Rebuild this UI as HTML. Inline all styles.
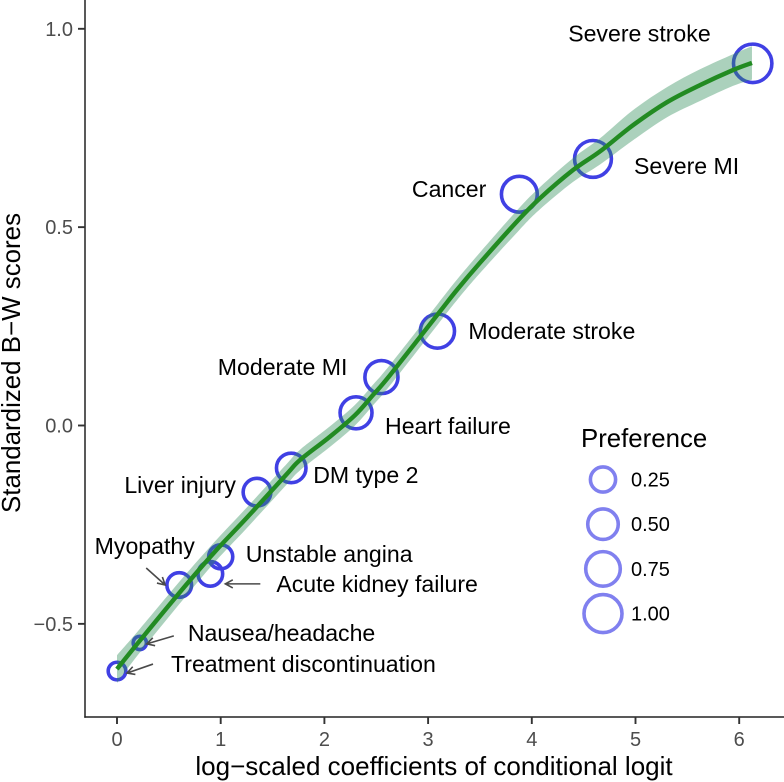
<!DOCTYPE html>
<html>
<head>
<meta charset="utf-8">
<title>Standardized B-W scores vs conditional logit coefficients</title>
<style>
html,body{margin:0;padding:0;background:#fff;width:784px;height:782px;overflow:hidden}
svg{display:block;font-family:"Liberation Sans",sans-serif}
</style>
</head>
<body>
<svg id="chart" width="784" height="782" viewBox="0 0 784 782" xmlns="http://www.w3.org/2000/svg"></svg>
<script>
const pointNames = ["Treatment discontinuation","Nausea/headache","Myopathy","Acute kidney failure","Unstable angina","Liver injury","DM type 2","Heart failure","Moderate MI","Moderate stroke","Cancer","Severe MI","Severe stroke"];
const pointX = [0, 0.22, 0.6, 0.9, 1.0, 1.35, 1.68, 2.305, 2.55, 3.09, 3.88, 4.59, 6.13];
const pointY = [-0.619, -0.548, -0.402, -0.374, -0.331, -0.168, -0.107, 0.032, 0.122, 0.238, 0.583, 0.672, 0.913];
const pointPref = [0.1, 0.03, 0.3, 0.3, 0.28, 0.42, 0.5, 0.62, 0.68, 0.74, 0.84, 0.9, 1.0];

const curveX = [0, 0.203, 0.627, 0.945, 1.254, 1.639, 1.765, 2.054, 2.295, 2.469, 2.633, 3.095, 3.279, 3.5, 3.877, 4.079, 4.398, 4.658, 4.976, 5.304, 5.622, 5.94, 6.123];
const curveY = [-0.614, -0.548, -0.414, -0.318, -0.232, -0.122, -0.087, -0.028, 0.026, 0.077, 0.127, 0.281, 0.342, 0.41, 0.52, 0.573, 0.644, 0.691, 0.757, 0.815, 0.858, 0.896, 0.914];
const curveUpper = [-0.579, -0.518, -0.386, -0.292, -0.206, -0.096, -0.061, -0.002, 0.052, 0.103, 0.153, 0.307, 0.368, 0.436, 0.548, 0.601, 0.674, 0.724, 0.795, 0.853, 0.898, 0.936, 0.956];
const curveLower = [-0.649, -0.578, -0.442, -0.344, -0.258, -0.148, -0.113, -0.054, 0, 0.051, 0.101, 0.255, 0.316, 0.384, 0.492, 0.545, 0.614, 0.658, 0.719, 0.777, 0.818, 0.856, 0.872];

const xTicks = [0, 1, 2, 3, 4, 5, 6];
const yTicks = [-0.5, 0, 0.5, 1];
const yTickLabels = ["\u22120.5", "0.0", "0.5", "1.0"];
const legendValues = [0.25, 0.5, 0.75, 1];
const legendLabels = ["0.25", "0.50", "0.75", "1.00"];

const sx = v => 117 + v * 103.7;
const sy = v => 425.5 - v * 396.7;
const sr = p => 4 + 15.2 * Math.sqrt(Math.max(p, 0));
const legendR = p => 6.2 + 12.8 * Math.sqrt(p);

const labelLayout = [
  {dx:54, dy:0, anchor:"start", arrow:[36,-7,10,2]},
  {dx:48, dy:-3, anchor:"start", arrow:[34,-7,7,1]},
  {dx:-34.5, dy:-32, anchor:"middle", arrow:[-33,-17,-14,0]},
  {dx:66, dy:17, anchor:"start", arrow:[50,10,15,10]},
  {dx:25, dy:4, anchor:"start", arrow:null},
  {dx:-21, dy:0, anchor:"end", arrow:null},
  {dx:22, dy:14, anchor:"start", arrow:null},
  {dx:29, dy:20, anchor:"start", arrow:null},
  {dx:-34, dy:-3, anchor:"end", arrow:null},
  {dx:31, dy:7, anchor:"start", arrow:null},
  {dx:-33, dy:2, anchor:"end", arrow:null},
  {dx:41, dy:14, anchor:"start", arrow:null},
  {dx:-42, dy:-23, anchor:"end", arrow:null}
];

const NS = "http://www.w3.org/2000/svg";
const svg = document.getElementById("chart");
function mk(tag, attrs, parent, text) {
  const el = document.createElementNS(NS, tag);
  for (const k in attrs) el.setAttribute(k, attrs[k]);
  if (text !== undefined) el.textContent = text;
  (parent || svg).appendChild(el);
  return el;
}
function smooth(pts, move) {
  let d = move ? "M" + pts[0][0].toFixed(2) + "," + pts[0][1].toFixed(2) : "L" + pts[0][0].toFixed(2) + "," + pts[0][1].toFixed(2);
  for (let i = 0; i < pts.length - 1; i++) {
    const p0 = pts[Math.max(i - 1, 0)], p1 = pts[i], p2 = pts[i + 1], p3 = pts[Math.min(i + 2, pts.length - 1)];
    const c1x = p1[0] + (p2[0] - p0[0]) / 6, c1y = p1[1] + (p2[1] - p0[1]) / 6;
    const c2x = p2[0] - (p3[0] - p1[0]) / 6, c2y = p2[1] - (p3[1] - p1[1]) / 6;
    d += "C" + c1x.toFixed(2) + "," + c1y.toFixed(2) + " " + c2x.toFixed(2) + "," + c2y.toFixed(2) + " " + p2[0].toFixed(2) + "," + p2[1].toFixed(2);
  }
  return d;
}

/* markers */
const markers = mk("g", {}, svg);


pointNames.forEach((name, i) => {
  const c = mk("circle", {cx: sx(pointX[i]), cy: sy(pointY[i]), r: sr(pointPref[i]), fill: "none", stroke: "#4040e4", "stroke-width": 3.6}, markers);
  
  
});

/* ribbon and smooth line */
const upperPts = curveX.map((v, i) => [sx(v), sy(curveUpper[i])]);
const lowerPts = curveX.map((v, i) => [sx(v), sy(curveLower[i])]).reverse();
const ribbon = mk("path", {d: smooth(upperPts, true) + smooth(lowerPts, false) + "Z", fill: "#2e8b57", "fill-opacity": 0.4, stroke: "none"});


const line = mk("path", {d: smooth(curveX.map((v, i) => [sx(v), sy(curveY[i])]), true), fill: "none", stroke: "#228b22", "stroke-width": 4.4});



/* labels and arrows */
pointNames.forEach((name, i) => {
  const L = labelLayout[i], px = sx(pointX[i]), py = sy(pointY[i]);
  const t = mk("text", {x: px + L.dx, y: py + L.dy + 1, "text-anchor": L.anchor, "font-size": 23.1, fill: "#000"}, svg, name);
  
  
  if (L.arrow) {
    const a = L.arrow, x1 = px + a[0], y1 = py + a[1], x2 = px + a[2], y2 = py + a[3];
    const ang = Math.atan2(y2 - y1, x2 - x1), h = 8.5, s = 0.5;
    const d = "M" + x1 + "," + y1 + "L" + x2 + "," + y2 +
      "M" + (x2 - h * Math.cos(ang - s)) + "," + (y2 - h * Math.sin(ang - s)) + "L" + x2 + "," + y2 +
      "L" + (x2 - h * Math.cos(ang + s)) + "," + (y2 - h * Math.sin(ang + s));
    const ar = mk("path", {d: d, fill: "none", stroke: "#4a4a4a", "stroke-width": 1.6});
    
    
  }
});

/* axes */
const axisY = mk("line", {x1: 85, x2: 85, y1: 0, y2: 717.7, stroke: "#222", "stroke-width": 1.5});


const axisX = mk("line", {x1: 84.3, x2: 784, y1: 717, y2: 717, stroke: "#222", "stroke-width": 1.5});


xTicks.forEach(v => {
  const tick = mk("line", {x1: sx(v), x2: sx(v), y1: 717, y2: 724, stroke: "#333", "stroke-width": 1.9});
  
  
  const lab = mk("text", {x: sx(v), y: 746, "text-anchor": "middle", "font-size": 20, fill: "#4d4d4d"}, svg, String(v));
  
  
});
yTicks.forEach((v, i) => {
  const tick = mk("line", {x1: 78, x2: 85, y1: sy(v), y2: sy(v), stroke: "#333", "stroke-width": 1.9});
  
  
  const lab = mk("text", {x: 73, y: sy(v) + 7, "text-anchor": "end", "font-size": 20, fill: "#4d4d4d"}, svg, yTickLabels[i]);
  
  
});
const xTitle = mk("text", {x: 434, y: 775, "text-anchor": "middle", "font-size": 26, fill: "#000"}, svg, "log\u2212scaled coefficients of conditional logit");


const yTitle = mk("text", {transform: "translate(20,363) rotate(-90)", "text-anchor": "middle", "font-size": 25.9, fill: "#000"}, svg, "Standardized B\u2212W scores");



/* legend */
const legendTitle = mk("text", {x: 581, y: 447, "font-size": 25.8, fill: "#000"}, svg, "Preference");


legendValues.forEach((v, i) => {
  const cy = 479.5 + i * 44.7;
  const c = mk("circle", {cx: 603, cy: cy, r: legendR(v), fill: "none", stroke: "#8080ef", "stroke-width": 3.6});
  
  
  const t = mk("text", {x: 631, y: cy + 7, "font-size": 20, fill: "#000"}, svg, legendLabels[i]);
  
  
});
</script>
</body>
</html>
